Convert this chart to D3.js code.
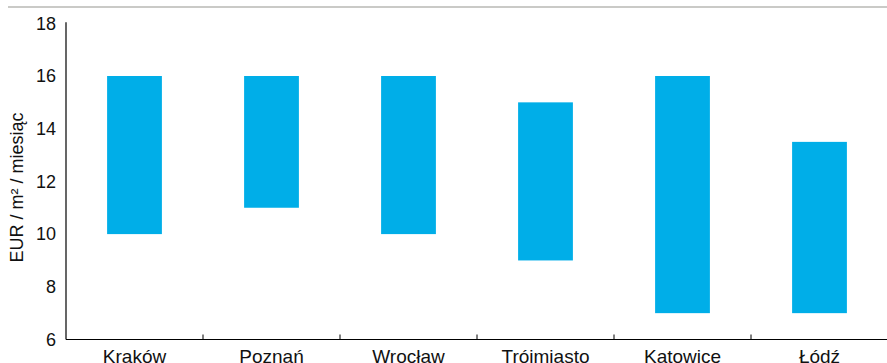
<!DOCTYPE html>
<html><head><meta charset="utf-8">
<script src="https://cdn.jsdelivr.net/npm/d3@7"></script>
<style>body{margin:0;background:#fff}svg{display:block}text{font-family:"Liberation Sans",Arial,sans-serif;fill:#111}</style>
</head><body>
<script>
const categories = ["Kraków","Poznań","Wrocław","Trójmiasto","Katowice","Łódź"];
const lowValues  = [10, 11, 10, 9, 7, 7];
const highValues = [16, 16, 16, 15, 16, 13.5];
const yTicks = [6, 8, 10, 12, 14, 16, 18];
const yLabel = "EUR / m² / miesiąc";

const W = 887, H = 363;
const svg = d3.select("body").append("svg").attr("width", W).attr("height", H);

svg.append("line").attr("x1", 8).attr("x2", W).attr("y1", 7).attr("y2", 7)
  .attr("stroke", "#b8b8b4").attr("stroke-width", 1.5);

const x = d3.scaleBand().domain(categories).range([66, 888]).paddingInner(0).paddingOuter(0);
const y = d3.scaleLinear().domain([6, 18]).range([339.5, 23.3]);
const bw = x.bandwidth() * 0.4;

svg.selectAll("rect.bar").data(categories).enter().append("rect")
  .attr("class", "bar")
  .attr("x", d => x(d) + (x.bandwidth() - bw) / 2)
  .attr("width", bw)
  .attr("y", (d, i) => y(highValues[i]))
  .attr("height", (d, i) => y(lowValues[i]) - y(highValues[i]))
  .attr("fill", "#00aee8");

// y axis
const yAxis = svg.append("g").attr("transform", "translate(66,0)")
  .call(d3.axisLeft(y).tickValues(yTicks).tickSize(0).tickPadding(10).tickFormat(d3.format("d")));
yAxis.select(".domain").attr("stroke", "#000").attr("stroke-width", 1.2).attr("d", `M0,${y(18)-1}V${y(6)}`);
yAxis.selectAll("text").style("font-size", "18px").attr("fill", "#111");

// x axis
const xAxis = svg.append("g").attr("transform", `translate(0,${y(6)})`)
  .call(d3.axisBottom(x).tickSize(0).tickPadding(7));
xAxis.select(".domain").attr("stroke", "#000").attr("stroke-width", 1.2).attr("d", `M66,0H${W}`);
xAxis.selectAll("text").style("font-size", "19px").attr("dy", "0.85em").attr("fill", "#111");

// boundary ticks (inward)
svg.selectAll("line.bt").data(categories.slice(1)).enter().append("line")
  .attr("class", "bt")
  .attr("x1", d => x(d)).attr("x2", d => x(d))
  .attr("y1", y(6)).attr("y2", y(6) - 5)
  .attr("stroke", "#000").attr("stroke-width", 1);

svg.append("text")
  .attr("transform", `translate(23,${(y(6)+y(18))/2 + 6}) rotate(-90)`)
  .attr("text-anchor", "middle")
  .style("font-size", "18px")
  .text(yLabel);
</script>
</body></html>
